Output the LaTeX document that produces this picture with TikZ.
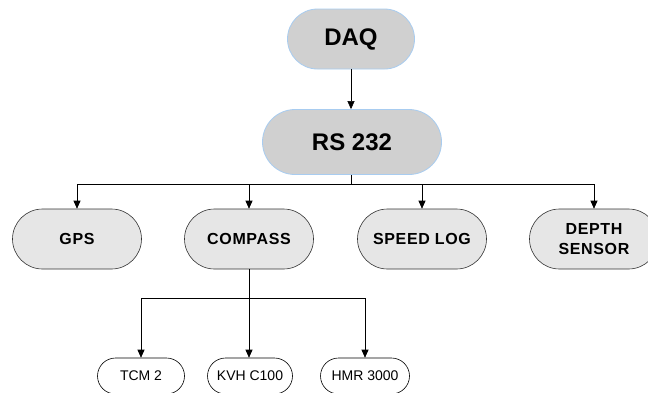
\documentclass[tikz,border=0pt]{standalone}
\usepackage{fontspec}
\setmainfont{Liberation Sans}
\usetikzlibrary{shapes.misc,arrows.meta}
\definecolor{topfill}{HTML}{D0D0D0}
\definecolor{topline}{HTML}{A8CCF0}
\definecolor{midfill}{HTML}{E6E6E6}
\begin{document}
\begin{tikzpicture}[x=1pt,y=-1pt,
  topbox/.style={rounded rectangle, draw=topline, line width=0.8pt, fill=topfill, inner sep=0pt, font=\bfseries\fontsize{24}{28}\selectfont},
  midbox/.style={rounded rectangle, draw=black!80, line width=0.6pt, fill=midfill, inner sep=0pt, minimum width=129pt, minimum height=60pt, align=center, font=\bfseries\fontsize{16}{20}\selectfont\addfontfeatures{LetterSpace=4}},
  lowbox/.style={rounded rectangle, draw=black, line width=0.6pt, fill=white, inner sep=0pt, minimum height=36pt, font=\fontsize{14}{16}\selectfont},
  conn/.style={draw=black, line width=0.6pt},
  arr/.style={conn, -{Triangle[length=8pt,width=7pt]}}]
\useasboundingbox (0,0) rectangle (648,392);
\clip (0,0) rectangle (648,392);
\fill[white] (0,0) rectangle (648,392);
\node[topbox, minimum width=127pt, minimum height=60pt] (daq) at (351,39) {DAQ};
\node[topbox, minimum width=179pt, minimum height=65pt] (rs) at (352,142) {RS 232};
\node[midbox] (gps) at (77,239) {GPS};
\node[midbox] (comp) at (249,239) {COMPASS};
\node[midbox] (speed) at (422,239) {SPEED LOG};
\node[midbox] (depth) at (594,239) {DEPTH\\SENSOR};
\node[lowbox, minimum width=87pt] (tcm) at (141,376) {TCM 2};
\node[lowbox, minimum width=85pt] (kvh) at (250,376) {KVH C100};
\node[lowbox, minimum width=89pt] (hmr) at (365,376) {HMR 3000};
\coordinate (b1) at (351,184);
\coordinate (b2) at (249,298);
\draw[arr] (daq.south -| 351,0) -- (rs.north -| 351,0);
\draw[conn] (rs.south -| b1) -- (b1);
\draw[conn] (gps.north |- b1) -- (depth.north |- b1);
\draw[arr] (gps.north |- b1) -- (gps.north);
\draw[arr] (comp.north |- b1) -- (comp.north);
\draw[arr] (speed.north |- b1) -- (speed.north);
\draw[arr] (depth.north |- b1) -- (depth.north);
\draw[conn] (comp.south) -- (b2);
\draw[conn] (tcm.north |- b2) -- (hmr.north |- b2);
\draw[arr] (tcm.north |- b2) -- (tcm.north);
\draw[arr] (b2) -- (b2 |- kvh.north);
\draw[arr] (hmr.north |- b2) -- (hmr.north);
\end{tikzpicture}
\end{document}
